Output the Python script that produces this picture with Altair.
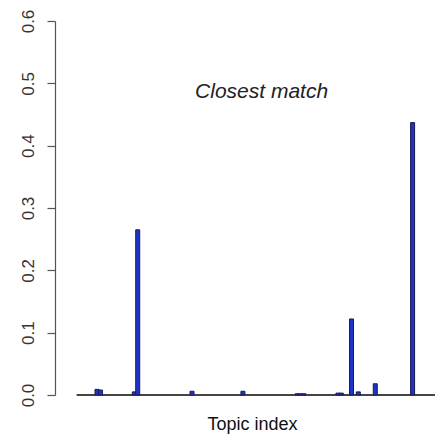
import altair as alt
import pandas as pd

# Topic indices with visible weight, and their proportions
topic_idx = [7, 8, 18, 19, 35, 50, 66, 67, 68, 78, 79, 82, 84, 89, 100]
topic_val = [0.009, 0.008, 0.005, 0.265, 0.006, 0.006, 0.002, 0.002, 0.002,
             0.003, 0.003, 0.122, 0.005, 0.018, 0.437]
n_topics = 100
y_ticks = [0.0, 0.1, 0.2, 0.3, 0.4, 0.5, 0.6]
x_domain = [-3.9, 106.6]

bars = pd.DataFrame({"topic": topic_idx, "value": topic_val})
base = pd.DataFrame({"start": [1], "end": [x_domain[1]], "zero": [0.0]})
note = pd.DataFrame({"topic": [55.5], "value": [0.486], "label": ["Closest match"]})

FONT = "Liberation Sans"

xscale = alt.Scale(domain=x_domain, nice=False, zero=False)
yscale = alt.Scale(domain=[0, 0.6], nice=False)

baseline = alt.Chart(base).mark_rule(color="#444444", strokeWidth=2).encode(
    x=alt.X("start:Q", scale=xscale,
            axis=alt.Axis(title="Topic index", ticks=False, labels=False, domain=False,
                          grid=False, titleFont=FONT, titleFontSize=18,
                          titleFontWeight="normal", titleColor="#111111",
                          titlePadding=20, titleX=197)),
    x2="end:Q",
    y=alt.Y("zero:Q", scale=yscale,
            axis=alt.Axis(title=None, values=y_ticks, format=".1f", grid=False,
                          labelAngle=270, labelAlign="center",
                          labelBaseline="alphabetic", labelPadding=14,
                          labelFont=FONT, labelFontSize=17, labelColor="#333333",
                          tickSize=8, tickColor="#555555", domainColor="#555555",
                          tickWidth=1.2, domainWidth=1.2)),
)

bar_layer = alt.Chart(bars).mark_bar(
    width=4, fill="#1c35c8", stroke="#1a1a50", strokeWidth=1
).encode(
    x=alt.X("topic:Q", scale=xscale),
    y=alt.Y("value:Q", scale=yscale),
)

text_layer = alt.Chart(note).mark_text(
    font=FONT, fontSize=21, fontStyle="italic", color="#222222",
    baseline="middle", align="center"
).encode(
    x=alt.X("topic:Q", scale=xscale),
    y=alt.Y("value:Q", scale=yscale),
    text="label:N",
)

chart = alt.layer(baseline, bar_layer, text_layer).properties(
    width=385, height=374,
    padding={"left": 55, "top": 21, "right": 0, "bottom": 45},
    autosize=alt.AutoSizeParams(type="none"),
    background="white",
).configure_view(stroke=None)

chart.save("out.html", embed_options={"renderer": "svg", "actions": False})
